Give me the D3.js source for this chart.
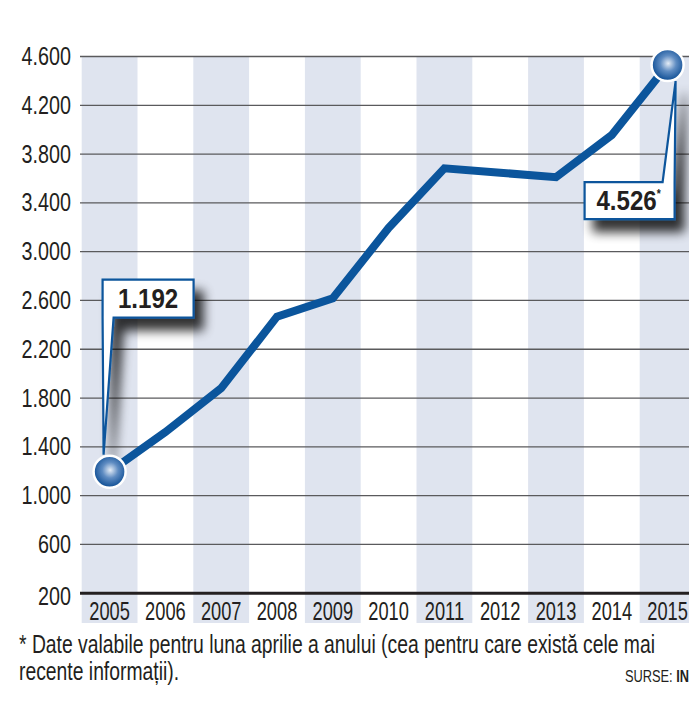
<!DOCTYPE html>
<html>
<head>
<meta charset="utf-8">
<script src="https://cdn.jsdelivr.net/npm/d3@7"></script>
<style>
    body { margin: 0; background: #fff; }
    svg text { font-family: "Liberation Sans", Arial, sans-serif; fill: #231f20; }
</style>
</head>
<body>
<div id="chart"></div>
<script>

// Data
var years = ["2005", "2006", "2007", "2008", "2009", "2010", "2011", "2012", "2013", "2014", "2015"];
var values = [1192, 1517, 1876, 2463, 2614, 3190, 3679, 3643, 3606, 3952, 4526];
var yTicks = [200, 600, 1000, 1400, 1800, 2200, 2600, 3000, 3400, 3800, 4200, 4600];
var callouts = [
    { year: "2005", label: "1.192", star: false },
    { year: "2015", label: "4.526", star: true }
];
var footnote = [
    "* Date valabile pentru luna aprilie a anului (cea pentru care există cele mai",
    "recente informații)."
];

var formatDot = function(d) { return d3.format(",")(d).replace(/,/g, "."); };

// squeeze text horizontally (no condensed font installed)
function narrow(sel, k) {
    sel.each(function() {
        var w = this.getComputedTextLength();
        d3.select(this).attr("textLength", w * k).attr("lengthAdjust", "spacingAndGlyphs");
    });
}


// --> CREATE SVG DRAWING AREA
var width = 689,
    height = 711;

var svg = d3.select("#chart").append("svg")
    .attr("width", width)
    .attr("height", height);

var defs = svg.append("defs");

// drop shadow for the callout boxes
var shadow = defs.append("filter")
    .attr("id", "shadow")
    .attr("x", "-30%").attr("y", "-30%")
    .attr("width", "170%").attr("height", "170%");
shadow.append("feGaussianBlur").attr("in", "SourceAlpha").attr("stdDeviation", 5.5).attr("result", "blur");
shadow.append("feOffset").attr("in", "blur").attr("dx", 9).attr("dy", 12).attr("result", "off");
shadow.append("feComponentTransfer").attr("in", "off").attr("result", "soft")
    .append("feFuncA").attr("type", "linear").attr("slope", 0.8);
var merge = shadow.append("feMerge");
merge.append("feMergeNode").attr("in", "soft");
merge.append("feMergeNode").attr("in", "SourceGraphic");

// ball gradient
var grad = defs.append("radialGradient")
    .attr("id", "ball")
    .attr("cx", "52%").attr("cy", "45%").attr("r", "55%");
grad.append("stop").attr("offset", "0%").attr("stop-color", "#e4ecf6");
grad.append("stop").attr("offset", "45%").attr("stop-color", "#5f8cc2");
grad.append("stop").attr("offset", "100%").attr("stop-color", "#0b4b92");


// Scales
var x = d3.scaleBand()
    .domain(years)
    .range([81.7, 695.5])
    .padding(0);

var y = d3.scaleLinear()
    .domain([200, 4600])
    .range([592.7, 56]);


// Column bands
svg.selectAll("rect.band")
    .data(years.filter(function(d, i) { return i % 2 === 0; }))
    .enter().append("rect")
    .attr("class", "band")
    .attr("x", function(d) { return x(d); })
    .attr("y", y(4600))
    .attr("width", x.bandwidth())
    .attr("height", 623 - y(4600))
    .attr("fill", "#dfe4ef");


// Grid lines
var yAxis = d3.axisLeft(y)
    .tickValues(yTicks)
    .tickSize(-(width - 80))
    .tickFormat(formatDot);

var gy = svg.append("g")
    .attr("transform", "translate(80,0)")
    .call(yAxis);

gy.select(".domain").remove();
gy.selectAll(".tick line")
    .attr("stroke", function(d) { return d === 200 ? "#231f20" : "#5a5a5c"; })
    .attr("stroke-width", function(d) { return d === 200 ? 3 : 1.3; });
gy.selectAll(".tick text")
    .attr("x", -9)
    .attr("dy", function(d) { return d === 200 ? "0.48em" : "0.34em"; })
    .attr("font-size", 25)
    .attr("font-family", null)
    .style("fill", "#231f20")
    .call(narrow, 0.79);


// Year labels
var xAxis = d3.axisBottom(x).tickSize(0);
var gx = svg.append("g")
    .attr("transform", "translate(0,598)")
    .call(xAxis);
gx.select(".domain").remove();
gx.selectAll(".tick text")
    .attr("font-size", 25)
    .attr("font-family", null)
    .attr("dy", "0.74em")
    .style("fill", "#231f20")
    .call(narrow, 0.73);


// Line
var line = d3.line()
    .x(function(d, i) { return x(years[i]) + x.bandwidth() / 2; })
    .y(function(d) { return y(d); });

svg.append("path")
    .datum(values)
    .attr("d", line)
    .attr("fill", "none")
    .attr("stroke", "#0b559c")
    .attr("stroke-width", 8)
    .attr("stroke-linejoin", "miter");


// Callouts
callouts.forEach(function(c) {
    var i = years.indexOf(c.year);
    var px = x(c.year) + x.bandwidth() / 2,
        py = y(values[i]);
    var g = svg.append("g").attr("class", "callout");
    var d, t;
    if (!c.star) {
        // box above-right, tail running down to the ball
        var bx = px - 7, by = py - 192;
        d = "M" + bx + "," + by + "H" + (bx + 91) + "V" + (by + 38) +
            "H" + (bx + 11) + "L" + (px - 6) + "," + (py - 17) + "L" + bx + "," + (by + 38) + "Z";
        g.append("path").attr("d", d)
            .attr("fill", "#fff").attr("stroke", "#0b559c").attr("stroke-width", 2.2)
            .attr("filter", "url(#shadow)");
        t = g.append("text")
            .attr("x", bx + 45.5).attr("y", by + 28)
            .attr("text-anchor", "middle")
            .attr("font-size", 28).attr("font-weight", "bold")
            .text(c.label);
    } else {
        // box below-left, tail running up to the ball
        var bx2 = px - 83, by2 = py + 117;
        d = "M" + bx2 + "," + by2 + "H" + (bx2 + 78) + "L" + (px + 8) + "," + (py + 16) +
            "L" + (bx2 + 90) + "," + by2 + "V" + (by2 + 37) + "H" + bx2 + "Z";
        g.append("path").attr("d", d)
            .attr("fill", "#fff").attr("stroke", "#0b559c").attr("stroke-width", 2.2)
            .attr("filter", "url(#shadow)");
        t = g.append("text")
            .attr("x", bx2 + 44).attr("y", by2 + 28)
            .attr("text-anchor", "middle")
            .attr("font-size", 28).attr("font-weight", "bold");
        t.append("tspan").text(c.label);
        t.append("tspan").attr("dy", -12).attr("font-size", 12).text("*");
    }
    t.call(narrow, 0.86);
    svg.append("circle")
        .attr("cx", px).attr("cy", py).attr("r", 16)
        .attr("fill", "url(#ball)")
        .attr("stroke", "#fff").attr("stroke-width", 2.5);
});


// Footnote
var notes = svg.selectAll("text.note")
    .data(footnote)
    .enter().append("text")
    .attr("class", "note")
    .attr("x", 19)
    .attr("y", function(d, i) { return 653 + i * 27; })
    .attr("font-size", 25)
    .text(function(d) { return d; });

var kNote = 636 / notes.node().getComputedTextLength();
notes.call(narrow, kNote);

var src = svg.append("text")
    .attr("x", 625).attr("y", 682)
    .attr("font-size", 16);
src.append("tspan").text("SURSE: ");
src.append("tspan").attr("font-weight", "bold").text("INS");
src.call(narrow, 0.8);

</script>
</body>
</html>
